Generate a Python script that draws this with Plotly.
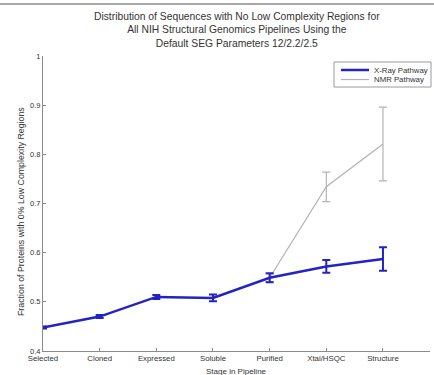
import plotly.graph_objects as go

# Pipeline stages and the fraction of proteins with no low complexity regions
stages = ["Selected", "Cloned", "Expressed", "Soluble", "Purified", "Xtal/HSQC", "Structure"]
stage_pos = [1, 2, 3, 4, 5, 6, 7]

xray_frac = [0.448, 0.470, 0.510, 0.508, 0.549, 0.572, 0.587]
xray_err = [0.002, 0.003, 0.004, 0.007, 0.009, 0.013, 0.024]

nmr_frac = [None, None, None, None, 0.549, 0.734, 0.821]
nmr_err = [None, None, None, None, 0.008, 0.030, 0.075]

y_ticks = [0.4, 0.5, 0.6, 0.7, 0.8, 0.9, 1.0]
y_tick_text = ["0.4", "0.5", "0.6", "0.7", "0.8", "0.9", "1"]

series_names = ["X-Ray Pathway", "NMR Pathway"]

FONT = "Arial, Liberation Sans, sans-serif"
TXT = "#333333"
BLUE = "#2323c4"
GRAY = "#b3b3b3"

W, H = 434, 375
L, R, T, B = 43, 4, 56, 24
PW, PH = W - L - R, H - T - B


def px(x):
    return (x - L) / PW


def py(y):
    return (H - B - y) / PH


fig = go.Figure()

fig.add_trace(go.Scatter(
    x=stage_pos, y=nmr_frac, name=series_names[1], mode="lines",
    line=dict(color=GRAY, width=1.2),
    error_y=dict(type="data", array=nmr_err, visible=True,
                 color=GRAY, thickness=1.2, width=4),
    showlegend=False,
))

fig.add_trace(go.Scatter(
    x=stage_pos, y=xray_frac, name=series_names[0], mode="lines",
    line=dict(color=BLUE, width=2.5),
    error_y=dict(type="data", array=xray_err, visible=True,
                 color=BLUE, thickness=2, width=4),
    showlegend=False,
))

fig.update_layout(
    width=W, height=H,
    margin=dict(l=L, r=R, t=T, b=B),
    paper_bgcolor="white", plot_bgcolor="white",
    font=dict(family=FONT, size=7.5, color=TXT),
    xaxis=dict(
        range=[1, 7.83], tickmode="array", tickvals=stage_pos, ticktext=stages,
        showgrid=False, zeroline=False, showline=True, linecolor="#8a8a8a",
        linewidth=1, ticks="inside", ticklen=3, tickcolor="#8a8a8a",
        tickfont=dict(size=7.8, family=FONT, color=TXT),
    ),
    yaxis=dict(
        range=[0.4, 1.0], tickmode="array", tickvals=y_ticks, ticktext=y_tick_text,
        showgrid=False, zeroline=False, showline=True, linecolor="#8a8a8a",
        linewidth=1, ticks="inside", ticklen=3, tickcolor="#8a8a8a",
        tickfont=dict(size=7.5, family=FONT, color=TXT),
    ),
)

# three-line title centred over the plotting area
fig.add_annotation(
    text="Distribution of Sequences with No Low Complexity Regions for<br>"
         "All NIH Structural Genomics Pipelines Using the<br>"
         "Default SEG Parameters 12/2.2/2.5",
    xref="paper", yref="paper", x=0.5, y=py(9), xanchor="center", yanchor="top",
    showarrow=False, align="center",
    font=dict(size=10.3, family=FONT, color=TXT),
)

# axis titles
fig.add_annotation(text="Stage in Pipeline", xref="paper", yref="paper",
                   x=0.5, y=py(371), xanchor="center", yanchor="middle",
                   showarrow=False, font=dict(size=8, family=FONT, color=TXT))
fig.add_annotation(text="Fraction of Proteins with 0% Low Complexity Regions",
                   xref="paper", yref="paper", x=px(21), y=py(212),
                   xanchor="center", yanchor="middle", textangle=-90,
                   showarrow=False, font=dict(size=8.8, family=FONT, color=TXT))

# compact boxed key in the upper right
fig.add_shape(type="rect", xref="paper", yref="paper",
              x0=px(334), x1=px(431), y0=py(62), y1=py(87),
              line=dict(color="#9a9a9a", width=1), fillcolor="white")
key_styles = [(BLUE, 2.5, 70), (GRAY, 1.2, 79.5)]
for name, (col, wid, yy) in zip(series_names, key_styles):
    fig.add_shape(type="line", xref="paper", yref="paper",
                  x0=px(341), x1=px(369), y0=py(yy), y1=py(yy),
                  line=dict(color=col, width=wid))
    fig.add_annotation(text=name, xref="paper", yref="paper",
                       x=px(372), y=py(yy), xanchor="left", yanchor="middle",
                       showarrow=False, font=dict(size=7.8, family=FONT, color=TXT))

# thin grey frame band across the top of the figure
fig.add_annotation(text=" ", xref="paper", yref="paper",
                   x=px(W / 2), y=py(4.5), xanchor="center", yanchor="middle",
                   width=W, height=2, borderpad=0, borderwidth=0,
                   bgcolor="#a8a8a8", showarrow=False, font=dict(size=1))

fig.write_html("out.html")
